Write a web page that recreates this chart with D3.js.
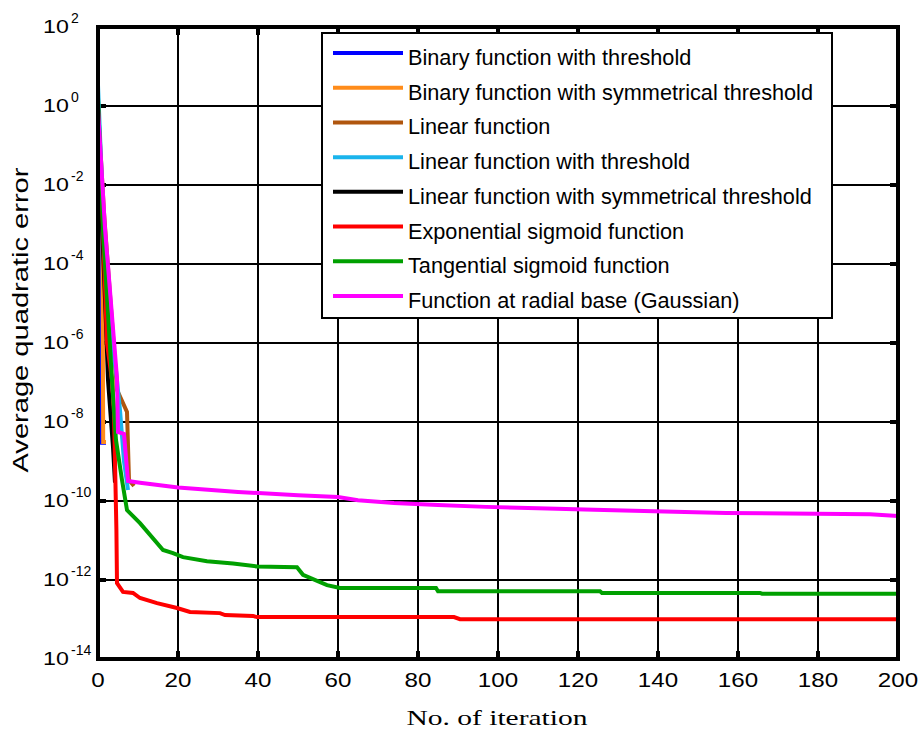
<!DOCTYPE html>
<html><head><meta charset="utf-8">
<script src="https://cdn.jsdelivr.net/npm/d3@7"></script>
<style>body{margin:0;background:#fff}svg{display:block}</style>
</head><body><svg id="chart" width="920" height="738"></svg>
<script>
// ---- data (iteration, average quadratic error) ----
const seriesNames = [
  "Binary function with threshold",
  "Binary function with symmetrical threshold",
  "Linear function",
  "Linear function with threshold",
  "Linear function with symmetrical threshold",
  "Exponential sigmoid function",
  "Tangential sigmoid function",
  "Function at radial base (Gaussian)"
];
const seriesColors = ["#0000ff","#ff8c1a","#b0560e","#1ab4ec","#000000","#ff0000","#00a000","#ff00ff"];
const xTicks = [0,20,40,60,80,100,120,140,160,180,200];
const yTickExps = [2,0,-2,-4,-6,-8,-10,-12,-14];

const binaryThreshold = [[0,1.0],[0.3,1.2e-5],[1,3e-9],[2,3e-9]];
const binarySymThreshold = [[0,1.0],[1.1,3e-3],[1.3,3.1e-9],[2,3.1e-9]];
const linearFn = [[0,1.0],[1.5,2e-3],[4.75,6.5e-8],[7.25,1.8e-8],[7.75,3.4e-10],[9,2.4e-10]];
const linearThreshold = [[0,3.4],[1,1e-2],[2,1e-4],[3,2e-6],[4.5,2e-7],[5.5,2e-8],[6.5,1e-9],[7.5,1.9e-10]];
const linearSymThreshold = [[0,1.0],[1,1e-3],[2,3e-6],[2.5,1.15e-7],[3.75,2.3e-9],[4.25,2.9e-10]];
const expSigmoid = [[0,1.0],[1,4.2e-3],[2.25,1e-6],[3.5,1.15e-7],[4,1.7e-8],[4.6,1.9e-11],[4.75,8.3e-13],
  [6.25,5.0e-13],[8.75,4.7e-13],[10.5,3.5e-13],[14.75,2.6e-13],[19.75,1.95e-13],[23,1.55e-13],
  [30.5,1.45e-13],[31.75,1.3e-13],[38.75,1.23e-13],[39.75,1.15e-13],[89,1.15e-13],[90.5,1.02e-13],[200,1.02e-13]];
const tanSigmoid = [[0,1.6],[1.25,7.2e-4],[3.5,1.15e-7],[4.5,3.5e-9],[6,3.4e-10],[7.25,5.9e-11],[10.5,2.75e-11],
  [16.25,5.75e-12],[18.75,4.8e-12],[21.25,3.8e-12],[27.25,3.0e-12],[33.75,2.6e-12],[39.75,2.2e-12],
  [49.75,2.1e-12],[51.25,1.35e-12],[57.25,7.4e-13],[60.5,6.3e-13],[84.5,6.3e-13],[85,5.2e-13],
  [125.5,5.2e-13],[126,4.7e-13],[165.5,4.7e-13],[166,4.5e-13],[200,4.5e-13]];
const gaussian = [[0,0.8],[1.75,7.9e-4],[4.75,1.3e-7],[5,5.6e-9],[6.5,5.0e-9],[7.5,3.2e-10],[10.5,2.9e-10],
  [20,2.2e-10],[35,1.7e-10],[50,1.4e-10],[60,1.26e-10],[65,1.05e-10],[74,8.9e-11],[85,7.9e-11],
  [97,7.1e-11],[110,6.6e-11],[124,6.0e-11],[139,5.5e-11],[157,5.0e-11],[193,4.6e-11],[200,4.2e-11]];
const seriesData = [binaryThreshold,binarySymThreshold,linearFn,linearThreshold,linearSymThreshold,expSigmoid,tanSigmoid,gaussian];

// ---- layout ----
const L = 98, R = 898, T = 27, B = 659;
const SANS = "Liberation Sans, Arial, sans-serif";
const svg = d3.select("#chart");
const x = d3.scaleLinear().domain([0,200]).range([L,R]);
const y = d3.scaleLog().domain([1e-14,1e2]).range([B,T]);

function stretch(sel, factor){
  sel.each(function(){
    const w = this.getComputedTextLength();
    d3.select(this).attr("textLength", w*factor).attr("lengthAdjust","spacingAndGlyphs");
  });
}

// grid
const g = svg.append("g");
g.selectAll("line.vg").data(xTicks).join("line")
  .attr("x1",d=>x(d)).attr("x2",d=>x(d)).attr("y1",T).attr("y2",B)
  .attr("stroke","#000").attr("stroke-width",2);
g.selectAll("line.hg").data(yTickExps).join("line")
  .attr("x1",L).attr("x2",R).attr("y1",d=>y(Math.pow(10,d))).attr("y2",d=>y(Math.pow(10,d)))
  .attr("stroke","#000").attr("stroke-width",2);
// inward ticks
const tk = svg.append("g").attr("stroke","#000").attr("stroke-width",4);
xTicks.forEach(d=>{
  tk.append("line").attr("x1",x(d)).attr("x2",x(d)).attr("y1",B).attr("y2",B-8);
  tk.append("line").attr("x1",x(d)).attr("x2",x(d)).attr("y1",T).attr("y2",T+8);
});
yTickExps.forEach(d=>{
  const yy=y(Math.pow(10,d));
  tk.append("line").attr("x1",L).attr("x2",L+8).attr("y1",yy).attr("y2",yy);
  tk.append("line").attr("x1",R).attr("x2",R-8).attr("y1",yy).attr("y2",yy);
});

// series
const line = d3.line().x(d=>x(d[0])).y(d=>y(d[1]));
svg.append("clipPath").attr("id","clp").append("rect").attr("x",L).attr("y",T).attr("width",R-L).attr("height",B-T);
svg.append("g").attr("clip-path","url(#clp)").selectAll("path").data(seriesData).join("path")
  .attr("d",line).attr("fill","none").attr("stroke",(d,i)=>seriesColors[i])
  .attr("stroke-width",4).attr("stroke-linejoin","miter");

// frame
svg.append("rect").attr("x",L).attr("y",T).attr("width",R-L).attr("height",B-T)
  .attr("fill","none").attr("stroke","#000").attr("stroke-width",4);

// x tick labels
const xl = svg.append("g").selectAll("text").data(xTicks).join("text")
  .attr("x",d=>x(d)).attr("y",687).attr("text-anchor","middle")
  .attr("font-family",SANS).attr("font-size",21)
  .text(d=>d);
stretch(xl, 1.15);
// y tick labels
const yl = svg.append("g").attr("font-family",SANS);
yTickExps.forEach(e=>{
  const yy = y(Math.pow(10,e));
  const base = yl.append("text").attr("x",43).attr("y",yy+6).attr("font-size",19).text("10");
  stretch(base, 1.22);
  yl.append("text").attr("x",71).attr("y",yy-4).attr("font-size",14).text(e);
});

// axis titles
const xt = svg.append("text").attr("x",497).attr("y",725).attr("text-anchor","middle")
  .attr("font-family","Liberation Serif, Times New Roman, serif").attr("font-size",22)
  .text("No. of iteration");
xt.attr("textLength",181).attr("lengthAdjust","spacingAndGlyphs");
const yt = svg.append("text").attr("transform","translate(28,320) rotate(-90)").attr("text-anchor","middle")
  .attr("font-family",SANS).attr("font-size",22)
  .text("Average quadratic error");
yt.attr("textLength",305).attr("lengthAdjust","spacingAndGlyphs");

// legend
const lg = svg.append("g");
lg.append("rect").attr("x",322).attr("y",33).attr("width",510).attr("height",285)
  .attr("fill","#fff").attr("stroke","#000").attr("stroke-width",2);
const rowY = d3.scaleLinear().domain([0,7]).range([53,296]);
seriesNames.forEach((n,i)=>{
  const yy = rowY(i);
  lg.append("line").attr("x1",333).attr("x2",403).attr("y1",yy).attr("y2",yy)
    .attr("stroke",seriesColors[i]).attr("stroke-width",4);
  lg.append("text").attr("x",408).attr("y",yy+12).attr("font-family",SANS)
    .attr("font-size",21.7).text(n);
});
</script></body></html>
